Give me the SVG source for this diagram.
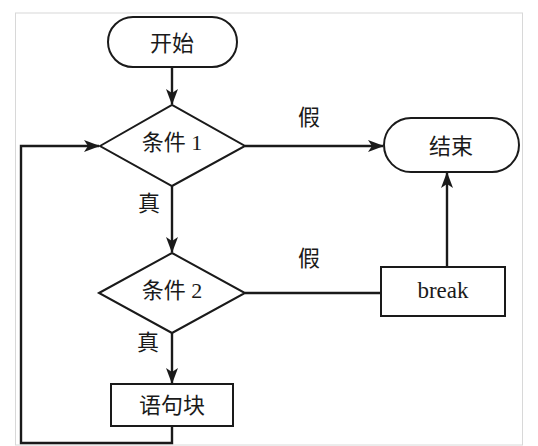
<svg xmlns="http://www.w3.org/2000/svg" width="538" height="446" viewBox="0 0 538 446">
<style>
.shape{fill:#fff;stroke:#1a1a1a;stroke-width:2}
.line{fill:none;stroke:#1a1a1a;stroke-width:2.4}
.t{font-family:"Liberation Serif","Noto Sans CJK SC",serif;font-size:22px;fill:#1a1a1a;text-anchor:middle;dominant-baseline:central}
</style>
<defs>
<marker id="arr" markerWidth="16" markerHeight="12" refX="15" refY="6" orient="auto" markerUnits="userSpaceOnUse">
<path d="M0,0 L16,6 L0,12 L4,6 z" fill="#1a1a1a"/>
</marker>
</defs>
<rect x="0" y="0" width="538" height="446" fill="#fff"/>
<rect x="15.5" y="13" width="507" height="432" fill="none" stroke="#d8d8d8" stroke-width="1"/>
<g id="connectors">
<line class="line" x1="172" y1="67" x2="172" y2="104" marker-end="url(#arr)"/>
<line class="line" x1="245" y1="146" x2="383" y2="146" marker-end="url(#arr)"/>
<line class="line" x1="172" y1="186" x2="172" y2="252" marker-end="url(#arr)"/>
<line class="line" x1="245" y1="293" x2="381" y2="293"/>
<line class="line" x1="447" y1="267" x2="447" y2="173" marker-end="url(#arr)"/>
<line class="line" x1="172" y1="333" x2="172" y2="383" marker-end="url(#arr)"/>
<polyline class="line" points="172,426 172,443 21,443 21,146 99,146" marker-end="url(#arr)"/>
<text class="t" x="309" y="117">假</text>
<text class="t" x="149" y="203">真</text>
<text class="t" x="309" y="258">假</text>
<text class="t" x="148" y="342">真</text>
</g>
<g id="start">
<rect class="shape" x="108" y="17" width="129" height="50" rx="25"/>
<text class="t" x="172" y="43">开始</text>
</g>
<g id="cond1">
<polygon class="shape" points="100,146 172,105 245,146 172,186"/>
<text class="t" x="172" y="142">条件 1</text>
</g>
<g id="end">
<rect class="shape" x="384" y="118" width="135" height="54" rx="27"/>
<text class="t" x="451" y="146">结束</text>
</g>
<g id="cond2">
<polygon class="shape" points="99,293 172,253 245,293 172,333"/>
<text class="t" x="172" y="290">条件 2</text>
</g>
<g id="break">
<rect class="shape" x="381" y="267" width="124" height="49"/>
<text class="t" x="443" y="290" style="font-size:23px">break</text>
</g>
<g id="block">
<rect class="shape" x="111" y="384" width="122" height="42"/>
<text class="t" x="172" y="405">语句块</text>
</g>
</svg>
